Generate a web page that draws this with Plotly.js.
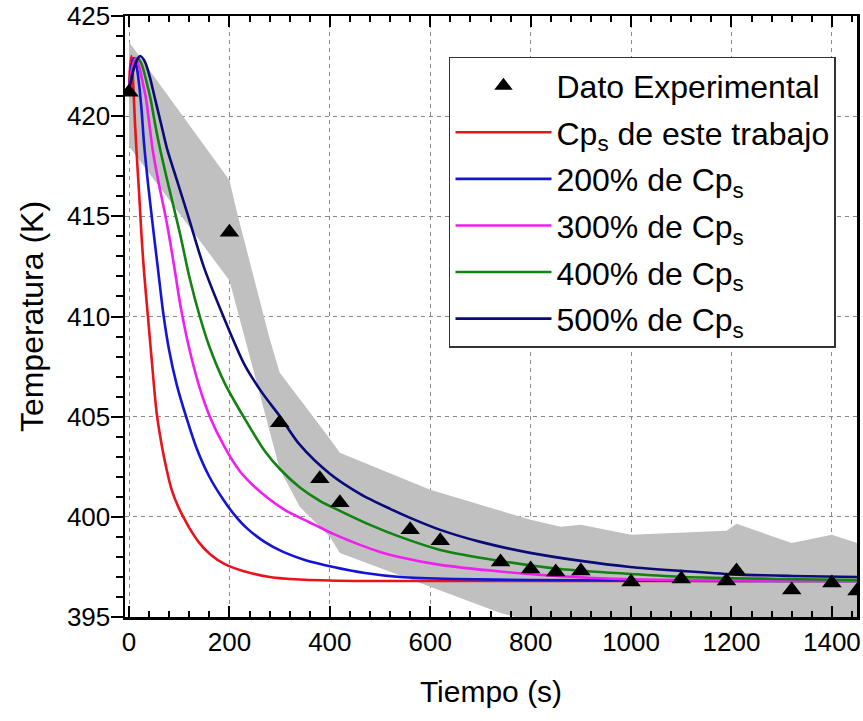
<!DOCTYPE html>
<html>
<head>
<meta charset="utf-8">
<script src="https://cdn.plot.ly/plotly-3.0.1.min.js"></script>
<style>html,body{margin:0;padding:0;background:#fff;}#chart{width:863px;height:721px;}</style>
</head>
<body>
<div id="chart"></div>
<script>
// Experimental data
var expTime = [0, 200, 300, 380, 420, 560, 620, 740, 800, 850, 900, 1000, 1100, 1190, 1210, 1320, 1400, 1450];
var expTemp = [421.2, 414.2, 404.7, 401.9, 400.7, 399.35, 398.8, 397.75, 397.4, 397.25, 397.3, 396.75, 396.9, 396.8, 397.3, 396.35, 396.7, 396.3];

// Uncertainty band (grey)
var bandTime  = [0, 200, 215, 280, 300, 340, 400, 420, 600, 740, 800, 860, 900, 1000, 1100, 1190, 1210, 1320, 1400, 1450];
var bandUpper = [423.7, 416.8, 415.2, 408.9, 407.2, 405.9, 403.9, 403.2, 401.35, 400.3, 399.85, 399.5, 399.6, 399.1, 399.2, 399.3, 399.65, 398.7, 399.1, 398.7];
var bandLower = [418.5, 411.8, 410.5, 404.3, 402.4, 400.5, 399.0, 398.2, 396.5, 395.2, 394.8, 394.5, 394.3, 394.0, 393.8, 393.6, 393.6, 393.5, 393.4, 393.4];

// Model curves
var redTime = [0, 2, 5, 8, 12, 16, 20, 25, 30, 38, 45, 55, 65, 75, 85, 98, 108, 120, 140, 161, 190, 227, 280, 340, 450, 600, 800, 1000, 1200, 1450];
var redTemp = [421.2, 422.4, 423.0, 421.8, 419.6, 417.8, 416.2, 414.0, 412.2, 409.9, 407.9, 405.2, 403.6, 402.35, 401.35, 400.5, 400.0, 399.45, 398.7, 398.15, 397.65, 397.3, 397.0, 396.87, 396.8, 396.8, 396.8, 396.8, 396.8, 396.8];

var blueTime = [0, 5, 10, 15, 20, 25, 30, 38, 48, 58, 68, 80, 95, 115, 135, 160, 188, 210, 234, 270, 307, 350, 407, 470, 540, 650, 800, 1000, 1200, 1450];
var blueTemp = [421.2, 422.5, 422.9, 422.5, 421.6, 420.3, 418.6, 416.6, 414.4, 412.3, 410.2, 408.3, 406.6, 404.9, 403.4, 402.0, 400.85, 400.1, 399.45, 398.75, 398.25, 397.85, 397.5, 397.2, 397.0, 396.9, 396.85, 396.82, 396.8, 396.8];

var magTime = [0, 6, 13, 20, 28, 34, 40, 47, 58, 75, 90, 102, 120, 140, 161, 190, 220, 250, 281, 310, 341, 370, 407, 460, 500, 540, 620, 739, 850, 1004, 1200, 1450];
var magTemp = [421.2, 422.4, 422.9, 422.5, 421.6, 420.85, 419.7, 418.35, 416.8, 414.7, 412.5, 410.6, 408.4, 406.5, 405.0, 403.5, 402.3, 401.5, 400.85, 400.35, 399.95, 399.6, 399.15, 398.6, 398.25, 397.98, 397.6, 397.27, 397.05, 396.88, 396.82, 396.8];

var greenTime = [0, 8, 17, 25, 35, 43, 52, 62, 78, 101, 120, 141, 160, 190, 228, 270, 300, 341, 380, 420, 480, 540, 620, 739, 859, 1000, 1104, 1300, 1450];
var greenTemp = [421.2, 422.3, 422.9, 422.6, 421.7, 420.85, 419.6, 418.35, 416.6, 414.2, 412.0, 410.0, 408.5, 406.7, 405.0, 403.3, 402.4, 401.45, 400.8, 400.3, 399.6, 399.0, 398.35, 397.8, 397.4, 397.15, 397.0, 396.9, 396.85];

var navyTime = [0, 10, 22, 32, 42, 52, 64, 76, 98, 118, 150, 188, 230, 265, 301, 340, 400, 460, 520, 560, 620, 700, 799, 900, 998, 1100, 1203, 1320, 1450];
var navyTemp = [421.2, 422.4, 423.0, 422.7, 421.9, 420.85, 419.6, 418.35, 416.6, 415.0, 412.4, 410.0, 407.6, 406.2, 405.0, 403.6, 402.15, 401.15, 400.4, 399.95, 399.35, 398.75, 398.2, 397.8, 397.5, 397.3, 397.13, 397.05, 397.0];

var legendNames = ['Dato Experimental', 'Cp<sub>s</sub> de este trabajo', '200% de Cp<sub>s</sub>', '300% de Cp<sub>s</sub>', '400% de Cp<sub>s</sub>', '500% de Cp<sub>s</sub>'];
var xTicks = [0, 200, 400, 600, 800, 1000, 1200, 1400];
var yTicks = [395, 400, 405, 410, 415, 420, 425];

var FONT = 'Arial, "Liberation Sans", Helvetica, sans-serif';

var bandX = bandTime.concat(bandTime.slice().reverse());
var bandY = bandUpper.concat(bandLower.slice().reverse());

function curve(x, y, name, color, rank) {
  return {x: x, y: y, type: 'scatter', mode: 'lines', name: name,
    line: {color: color, width: 2.6, shape: 'spline', smoothing: 0.8},
    legendgroup: 'g' + rank, legendrank: rank, hoverinfo: 'x+y'};
}

var traces = [
  {x: bandX, y: bandY, type: 'scatter', mode: 'lines', fill: 'toself',
   fillcolor: '#c0c0c0', line: {width: 0, color: '#c0c0c0'}, showlegend: false, hoverinfo: 'skip'},
  curve(redTime, redTemp, legendNames[1], '#e8131b', 2),
  curve(blueTime, blueTemp, legendNames[2], '#1414d6', 3),
  curve(magTime, magTemp, legendNames[3], '#f01ef0', 4),
  curve(greenTime, greenTemp, legendNames[4], '#128212', 5),
  curve(navyTime, navyTemp, legendNames[5], '#0a0a78', 6),
  {x: expTime, y: expTemp, type: 'scatter', mode: 'markers', name: legendNames[0],
   marker: {symbol: 'triangle-up', size: 17, color: '#000'}, legendgroup: 'g1', legendrank: 1, cliponaxis: true}
];

var axisCommon = {
  showline: true, linecolor: '#000', linewidth: 2.5,
  tickcolor: '#000', tickwidth: 2, zeroline: false
};

var layout = {
  width: 863, height: 721,
  margin: {l: 125, r: 6, t: 16, b: 104},
  paper_bgcolor: '#fff', plot_bgcolor: '#fff',
  font: {family: FONT, color: '#000', size: 26},
  showlegend: true,
  legend: {
    x: 0.4426, y: 0.932, xanchor: 'left', yanchor: 'top',
    bgcolor: '#fff', bordercolor: '#333', borderwidth: 1.5,
    font: {family: FONT, size: 32, color: '#000'},
    tracegroupgap: 2, itemwidth: 96, traceorder: 'grouped'
  },
  xaxis: Object.assign({}, axisCommon, {
    range: [-8, 1450], tickvals: xTicks, ticktext: xTicks.map(String),
    ticks: 'inside', ticklen: 11, mirror: 'allticks',
    minor: {dtick: 40, tick0: 0, ticks: 'inside', ticklen: 6, tickwidth: 2, tickcolor: '#000', showgrid: false},
    showgrid: true, gridcolor: '#8a8a8a', gridwidth: 1, griddash: '4px,4px',
    tickfont: {family: FONT, size: 26, color: '#000'},
    title: {text: 'Tiempo (s)', font: {family: FONT, size: 30, color: '#000'}, standoff: 26}
  }),
  xaxis2: Object.assign({}, axisCommon, {
    overlaying: 'x', side: 'bottom', range: [-8, 1450], tickvals: xTicks,
    ticks: 'outside', ticklen: 11, showticklabels: false, showgrid: false, showline: false,
    minor: {dtick: 40, tick0: 0, ticks: 'outside', ticklen: 6, tickwidth: 2, tickcolor: '#000', showgrid: false}
  }),
  yaxis: Object.assign({}, axisCommon, {
    range: [395, 425], tickvals: yTicks, ticktext: yTicks.map(String),
    ticks: 'outside', ticklen: 12, mirror: true, ticklabelstandoff: -5,
    minor: {dtick: 1, tick0: 395, ticks: 'outside', ticklen: 7, tickwidth: 2, tickcolor: '#000', showgrid: false},
    showgrid: true, gridcolor: '#8a8a8a', gridwidth: 1, griddash: '4px,4px',
    tickfont: {family: FONT, size: 26, color: '#000'},
    title: {text: 'Temperatura (K)', font: {family: FONT, size: 32, color: '#000'}, standoff: 14}
  }),
  yaxis2: Object.assign({}, axisCommon, {
    overlaying: 'y', side: 'right', range: [395, 425], tickvals: yTicks,
    ticks: 'inside', ticklen: 11, showticklabels: false, showgrid: false, showline: false,
    minor: {dtick: 1, tick0: 395, ticks: 'inside', ticklen: 6, tickwidth: 2, tickcolor: '#000', showgrid: false}
  })
};

Plotly.newPlot('chart', traces, layout, {displayModeBar: false, staticPlot: true});
</script>
</body>
</html>
